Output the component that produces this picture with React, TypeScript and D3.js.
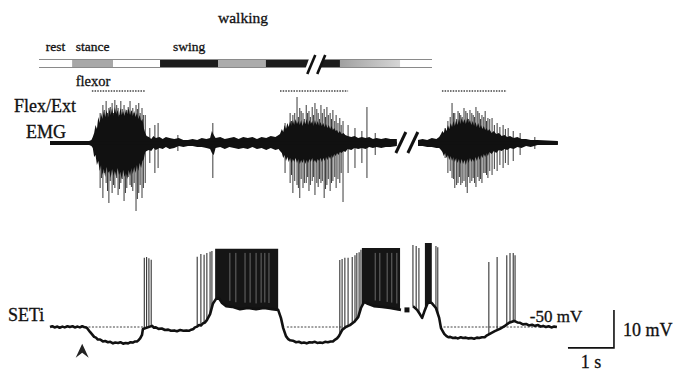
import React from 'react';
import * as d3 from 'd3';

const W = 676;
const H = 373;
const FONT = '"Liberation Serif", "Times New Roman", serif';

// top phase bar (bar time, s)
const phaseEdges = [0, 0.72, 1.61, 2.63, 3.89, 4.93, 6.54, 7.85, 8.54];
const phaseFills = ['#ffffff', '#a8a8a8', '#ffffff', '#1c1c1c', '#ababab', '#1c1c1c', 'url(#fade)', '#ffffff'];
const phaseLabels = ['rest', 'stance', '', 'swing', '', '', '', ''];
const barBreak = [5.83, 6.22];

// flexor bursts marked by dotted bars (s)
const flexorBursts = [[0.91, 2.07], [5.0, 6.48], [8.52, 9.93]];

// EMG envelope: [t (s), up, down] in a.u.
const emgEnvelope = [
  [0.0, 2, 2], [0.85, 2, 2], [0.9, 3, 3], [0.93, 6, 5], [0.96, 10, 14], [0.99, 18, 12], [1.02, 14, 22],
  [1.05, 26, 18], [1.08, 20, 28], [1.11, 30, 22], [1.14, 24, 32], [1.17, 32, 26], [1.2, 26, 34],
  [1.23, 33, 24], [1.26, 25, 30], [1.29, 34, 28], [1.32, 28, 35], [1.35, 35, 26], [1.38, 27, 33],
  [1.41, 36, 28], [1.44, 29, 34], [1.47, 33, 25], [1.5, 26, 32], [1.53, 35, 29], [1.56, 28, 36],
  [1.59, 32, 27], [1.62, 27, 34], [1.65, 34, 30], [1.68, 29, 36], [1.71, 35, 27], [1.74, 28, 33],
  [1.77, 33, 25], [1.8, 27, 31], [1.83, 32, 24], [1.86, 26, 30], [1.89, 30, 22], [1.92, 24, 28],
  [1.95, 28, 20], [1.98, 22, 25], [2.01, 24, 18], [2.04, 15, 16], [2.07, 10, 9], [2.1, 7, 8],
  [2.15, 6, 7], [2.2, 4, 8], [2.25, 7, 5], [2.3, 5, 7], [2.38, 6, 5], [2.45, 4, 6], [2.52, 6, 4],
  [2.6, 5, 6], [2.7, 4, 5], [2.8, 5, 3], [2.9, 3, 4], [3.0, 3, 3], [3.1, 4, 3], [3.2, 3, 4],
  [3.3, 5, 4], [3.4, 4, 5], [3.48, 5, 6], [3.52, 12, 10], [3.56, 8, 12], [3.6, 5, 5], [3.7, 6, 4],
  [3.8, 4, 6], [3.9, 5, 4], [4.0, 6, 5], [4.1, 4, 6], [4.2, 6, 5], [4.3, 5, 6], [4.4, 6, 4],
  [4.5, 4, 6], [4.6, 6, 5], [4.7, 5, 7], [4.8, 7, 5], [4.9, 6, 7], [4.97, 8, 6],
  [5.0, 9, 8], [5.04, 14, 10], [5.07, 11, 15], [5.1, 18, 12], [5.13, 14, 18], [5.16, 20, 14],
  [5.19, 16, 19], [5.22, 22, 15], [5.25, 17, 20], [5.28, 23, 16], [5.31, 18, 19], [5.34, 24, 15],
  [5.37, 19, 20], [5.4, 22, 16], [5.43, 18, 21], [5.46, 23, 17], [5.49, 17, 20], [5.52, 22, 16],
  [5.55, 19, 21], [5.58, 24, 17], [5.61, 18, 20], [5.64, 23, 16], [5.67, 19, 19], [5.7, 22, 15],
  [5.73, 17, 19], [5.76, 23, 17], [5.79, 18, 20], [5.82, 22, 16], [5.85, 17, 18], [5.88, 21, 15],
  [5.91, 17, 19], [5.94, 20, 15], [5.97, 16, 18], [6.0, 19, 14], [6.03, 15, 17], [6.06, 18, 13],
  [6.09, 14, 16], [6.12, 17, 12], [6.15, 13, 15], [6.18, 15, 11], [6.21, 12, 13], [6.24, 13, 10],
  [6.27, 10, 12], [6.3, 12, 9], [6.34, 9, 10], [6.38, 10, 8], [6.42, 8, 9], [6.47, 7, 6],
  [6.55, 6, 7], [6.62, 7, 5], [6.7, 5, 6], [6.78, 6, 5], [6.86, 5, 6], [6.94, 6, 4], [7.02, 4, 5],
  [7.1, 5, 4], [7.2, 4, 5], [7.3, 5, 4], [7.4, 4, 4], [7.54, 4, 3],
  [8.0, 3, 3], [8.1, 4, 3], [8.2, 3, 4], [8.3, 5, 4], [8.4, 4, 5], [8.46, 6, 5],
  [8.5, 9, 7], [8.53, 12, 9], [8.56, 10, 13], [8.59, 15, 10], [8.62, 12, 15], [8.65, 18, 12],
  [8.68, 14, 17], [8.71, 20, 13], [8.74, 16, 18], [8.77, 22, 14], [8.8, 17, 19], [8.83, 23, 15],
  [8.86, 18, 20], [8.89, 24, 16], [8.92, 19, 21], [8.95, 25, 16], [8.98, 20, 21], [9.01, 24, 17],
  [9.04, 19, 22], [9.07, 25, 16], [9.1, 20, 20], [9.13, 23, 15], [9.16, 18, 19], [9.19, 22, 16],
  [9.22, 17, 19], [9.25, 21, 14], [9.28, 16, 18], [9.31, 20, 13], [9.34, 15, 17], [9.37, 18, 12],
  [9.4, 14, 15], [9.43, 17, 11], [9.46, 13, 14], [9.49, 15, 10], [9.52, 12, 13], [9.55, 14, 9],
  [9.6, 10, 11], [9.65, 12, 8], [9.7, 9, 10], [9.76, 10, 7], [9.82, 7, 8], [9.88, 8, 6],
  [9.94, 6, 7], [10.0, 7, 5], [10.08, 5, 6], [10.16, 6, 4], [10.25, 4, 5], [10.35, 4, 3],
  [10.45, 3, 4], [10.6, 3, 2], [11.04, 2, 2],
];

// EMG single excursions: [t (s), up, down]
const emgSpikes = [
  [1.09, 30, 45], [1.12, 25, 35], [1.15, 38, 55], [1.18, 33, 30], [1.22, 42, 40], [1.25, 30, 48],
  [1.28, 35, 60], [1.31, 36, 38], [1.35, 40, 50], [1.38, 30, 42], [1.41, 43, 45], [1.45, 38, 35],
  [1.48, 35, 52], [1.51, 28, 46], [1.54, 42, 40], [1.57, 34, 36], [1.61, 38, 58], [1.64, 30, 50],
  [1.67, 33, 45], [1.7, 36, 34], [1.74, 42, 42], [1.77, 32, 44], [1.8, 35, 48], [1.83, 30, 40],
  [1.87, 38, 68], [1.9, 34, 56], [1.93, 40, 50], [1.96, 30, 42], [2.0, 35, 55], [2.03, 28, 45],
  [2.07, 28, 40], [2.17, 15, 20], [2.28, 18, 30], [2.35, 20, 25], [2.78, 8, 8],
  [3.54, 20, 35],
  [5.11, 20, 30], [5.22, 30, 40], [5.25, 22, 32], [5.28, 28, 50], [5.32, 30, 38], [5.37, 46, 42],
  [5.4, 26, 45], [5.43, 35, 55], [5.46, 32, 36], [5.5, 30, 45], [5.53, 24, 40], [5.57, 38, 40],
  [5.6, 30, 34], [5.63, 32, 48], [5.66, 26, 42], [5.7, 36, 38], [5.73, 28, 34], [5.76, 40, 52],
  [5.8, 34, 40], [5.83, 30, 44], [5.86, 24, 36], [5.89, 38, 40], [5.92, 30, 38], [5.96, 34, 55],
  [5.99, 26, 46], [6.02, 36, 42], [6.05, 28, 36], [6.09, 30, 48], [6.12, 24, 40], [6.15, 33, 38],
  [6.19, 22, 34], [6.22, 28, 45], [6.26, 20, 36], [6.3, 25, 40], [6.33, 18, 30], [6.37, 22, 59],
  [6.48, 18, 30], [6.63, 15, 25], [6.78, 12, 20], [6.89, 36, 35], [7.07, 10, 12],
  [8.59, 15, 15], [8.65, 22, 30], [8.7, 26, 28], [8.74, 40, 35], [8.77, 30, 36], [8.8, 30, 45],
  [8.84, 24, 42], [8.87, 32, 40], [8.9, 30, 34], [8.93, 28, 42], [8.96, 26, 40], [9.0, 35, 38],
  [9.04, 32, 44], [9.07, 30, 50], [9.1, 24, 34], [9.13, 33, 40], [9.17, 30, 38], [9.2, 28, 35],
  [9.23, 26, 40], [9.26, 36, 44], [9.3, 32, 34], [9.33, 30, 38], [9.36, 24, 36], [9.39, 28, 40],
  [9.43, 26, 30], [9.46, 32, 30], [9.49, 22, 32], [9.52, 25, 35], [9.56, 24, 28], [9.61, 25, 32],
  [9.66, 18, 26], [9.72, 20, 28], [9.78, 16, 22], [9.85, 18, 25], [9.9, 14, 20], [9.96, 15, 22],
  [10.07, 12, 18], [10.22, 10, 12], [10.54, 6, 6],
];
const emgBreak = [7.54, 8.0];

// SETi membrane potential: [t (s), mV]
const setiTrace = [
  [0, -50.0], [0.05, -49.8], [0.1, -50.1], [0.16, -49.9], [0.21, -50.2], [0.27, -49.9], [0.32, -50.1],
  [0.38, -49.8], [0.43, -50.0], [0.49, -49.8], [0.54, -50.1], [0.6, -49.9], [0.65, -50.1], [0.7, -49.8],
  [0.74, -50.0], [0.8, -50.2], [0.87, -51.3], [0.92, -52.0], [0.96, -52.6], [1.0, -52.8], [1.04, -53.3],
  [1.09, -53.3], [1.15, -53.8], [1.2, -53.7], [1.26, -54.0], [1.31, -53.9], [1.37, -54.3], [1.42, -54.1],
  [1.48, -54.2], [1.53, -54.0], [1.59, -54.4], [1.64, -54.2], [1.7, -54.3], [1.75, -54.0], [1.8, -54.1],
  [1.85, -53.8], [1.89, -53.8], [1.93, -53.4], [1.96, -53.0], [2.0, -52.1], [2.02, -50.5],
  [2.22, -49.7], [2.26, -50.2], [2.3, -50.1], [2.36, -50.5], [2.43, -50.4], [2.5, -50.8], [2.57, -50.7],
  [2.63, -51.0], [2.7, -50.9], [2.76, -51.1], [2.83, -50.8], [2.9, -51.0], [2.96, -50.9], [3.02, -51.0],
  [3.07, -50.7], [3.12, -50.5], [3.15, -50.1], [3.2, -49.9], [3.24, -49.5], [3.28, -49.6], [3.33, -49.0],
  [3.37, -48.8], [3.41, -48.2], [3.48, -46.6], [3.54, -43.9], [3.61, -42.6], [3.67, -42.4], [3.74, -43.7],
  [3.83, -44.5], [3.96, -44.7], [4.13, -45.3], [4.3, -45.0], [4.48, -45.3], [4.65, -45.0], [4.83, -45.3],
  [4.96, -45.5], [5.02, -47.6], [5.07, -50.3], [5.13, -52.4], [5.18, -53.2], [5.22, -53.5], [5.28, -53.6],
  [5.35, -54.0], [5.41, -53.9], [5.47, -54.2], [5.52, -54.1], [5.58, -54.3], [5.64, -54.0], [5.7, -54.1],
  [5.76, -53.9], [5.81, -54.2], [5.87, -54.1], [5.93, -54.2], [5.98, -53.9], [6.04, -54.0], [6.1, -53.8],
  [6.15, -53.8], [6.2, -53.3], [6.24, -53.0], [6.28, -52.4], [6.35, -50.8], [6.43, -50.0], [6.52, -49.5],
  [6.61, -48.7], [6.7, -47.4], [6.76, -45.0], [6.83, -43.4], [6.91, -43.9], [7.04, -44.5], [7.22, -44.7],
  [7.39, -45.0], [7.54, -45.3], [7.63, -45.5],
  [7.89, -44.5], [7.98, -45.5], [8.04, -46.6], [8.09, -47.6], [8.15, -45.5], [8.22, -43.4], [8.3, -43.7],
  [8.39, -45.0], [8.46, -47.6], [8.5, -50.3], [8.57, -51.8], [8.62, -52.4], [8.66, -52.7], [8.7, -52.6],
  [8.76, -52.9], [8.82, -52.8], [8.87, -53.0], [8.93, -52.7], [8.98, -52.9], [9.04, -52.8], [9.1, -53.0],
  [9.16, -52.9], [9.22, -53.1], [9.28, -52.8], [9.33, -52.9], [9.39, -52.7], [9.45, -52.7], [9.5, -52.2],
  [9.59, -51.6], [9.67, -51.1], [9.78, -50.5], [9.89, -49.7], [9.98, -48.9], [10.09, -48.4], [10.16, -48.8],
  [10.22, -48.9], [10.28, -49.3], [10.35, -49.2], [10.41, -49.6], [10.48, -49.4], [10.54, -49.7],
  [10.61, -49.5], [10.67, -49.9], [10.72, -49.7], [10.78, -50.0], [10.84, -49.8], [10.9, -50.1],
  [10.96, -49.9], [11.02, -50.0],
];
const setiGap = [7.65, 7.87];
const gapMarker = [7.76, -45.5];

// single action potentials: [t (s), peak mV]
const setiSpikes = [
  [2.05, -31.8], [2.1, -31.6], [2.15, -31.9], [2.2, -32.3],
  [3.2, -31.5], [3.28, -30.8], [3.35, -31.0], [3.41, -30.5], [3.48, -30.2], [3.52, -30.0],
  [6.3, -32.4], [6.35, -32.1], [6.41, -31.8], [6.48, -31.8], [6.57, -31.6], [6.63, -31.1],
  [6.67, -30.5], [6.72, -30.3], [6.76, -29.7],
  [7.89, -28.4], [7.96, -28.7], [8.02, -29.2], [8.39, -28.7], [8.43, -29.0],
  [9.54, -32.9], [9.72, -31.6], [9.93, -31.1], [10.0, -30.5], [10.07, -30.5], [10.11, -31.1],
];
// dense high-frequency firing: [t start, t end, peak mV]
const setiBursts = [[3.59, 4.96, -29.4], [6.78, 7.61, -29.2], [8.15, 8.3, -27.9]];
// lighter interspike columns inside the dense firing (s)
const burstGaps = [3.91, 4.04, 4.24, 4.35, 4.48, 4.59, 4.67, 4.76, 7.07, 7.17, 7.33, 7.43, 7.54];
// -50 mV reference, dotted (s)
const restLines = [[0.76, 2.07], [5.15, 6.35], [8.48, 10.9]];
const arrowTime = 0.7;
const scaleBar = { t: 12.26, v: -55.5, dt: 1, dv: 10 };

const xT = d3.scaleLinear().domain([0, 11]).range([50, 556]);
const xBar = d3.scaleLinear().domain([0, 8.54]).range([39, 432]);
const yE = d3.scaleLinear().domain([-80, 80]).range([223, 63]);
const yV = d3.scaleLinear().domain([-60, -40]).range([365, 289]);

const bis = d3.bisector((d: number[]) => d[0]).left;
function baseAt(t: number): number {
  const i = bis(setiTrace, t);
  if (i <= 0) return setiTrace[0][1];
  if (i >= setiTrace.length) return setiTrace[setiTrace.length - 1][1];
  const a = setiTrace[i - 1], b = setiTrace[i];
  return a[1] + ((b[1] - a[1]) * (t - a[0])) / (b[0] - a[0]);
}

export default function App() {
  const barTop = 60, barH = 7;
  const envArea = d3.area<number[]>()
    .x(d => xT(d[0]))
    .y0(d => yE(-d[2]))
    .y1(d => yE(d[1]));
  const envA = emgEnvelope.filter(d => d[0] <= emgBreak[0]);
  const envB = emgEnvelope.filter(d => d[0] >= emgBreak[1]);
  const baseLine = d3.line<number[]>().x(d => xT(d[0])).y(() => yE(0));

  const vLine = d3.line<number[]>().x(d => xT(d[0])).y(d => yV(d[1]));
  const traceA = setiTrace.filter(d => d[0] < setiGap[0]);
  const traceB = setiTrace.filter(d => d[0] > setiGap[1]);

  const burstPath = (b: number[]) => {
    const inner = setiTrace.filter(d => d[0] > b[0] && d[0] < b[1]);
    const pts: [number, number][] = [
      [xT(b[0]), yV(b[2])],
      [xT(b[1]), yV(b[2])],
      [xT(b[1]), yV(baseAt(b[1]))],
      ...inner.slice().reverse().map(d => [xT(d[0]), yV(d[1])] as [number, number]),
      [xT(b[0]), yV(baseAt(b[0]))],
    ];
    return 'M' + pts.map(p => p.join(',')).join('L') + 'Z';
  };

  const slash = (x: number, y0: number, y1: number, dx: number) =>
    `M${x},${y0}L${x + dx},${y1}`;

  const ax = xT(arrowTime), ay = yV(-54.4);
  const sbx = xT(scaleBar.t), sby = yV(scaleBar.v);
  const txt = { fill: '#111', stroke: '#111', strokeWidth: 0.3 };

  return (
    <svg width={W} height={H} style={{ position: 'absolute', left: 0, top: 0, background: '#fff' }}
      fontFamily={FONT}>
      <defs>
        <linearGradient id="fade" x1="0" x2="1" y1="0" y2="0">
          <stop offset="0" stopColor="#a0a0a0" />
          <stop offset="1" stopColor="#d6d6d6" />
        </linearGradient>
      </defs>

      <text x={243} y={23} fontSize={15.5} textAnchor="middle" {...txt}>walking</text>

      {/* phase bar */}
      {phaseFills.map((f, i) => (
        <rect key={i} x={xBar(phaseEdges[i])} y={barTop} width={xBar(phaseEdges[i + 1]) - xBar(phaseEdges[i])}
          height={barH} fill={f} />
      ))}
      <line x1={xBar(0)} x2={xBar(8.54)} y1={barTop - 0.5} y2={barTop - 0.5} stroke="#8a8a8a" />
      <line x1={xBar(0)} x2={xBar(8.54)} y1={barTop + barH + 0.5} y2={barTop + barH + 0.5} stroke="#8a8a8a" />
      {phaseLabels.map((l, i) => l ? (
        <text key={l} x={(xBar(phaseEdges[i]) + xBar(phaseEdges[i + 1])) / 2} y={51} fontSize={13.5}
          textAnchor="middle" {...txt}>{l}</text>
      ) : null)}
      <path d={`M${xBar(barBreak[0]) + 2},${barTop - 2}L${xBar(barBreak[1]) - 2},${barTop - 2}L${xBar(barBreak[1]) - 6},${barTop + barH + 2}L${xBar(barBreak[0]) - 2},${barTop + barH + 2}Z`}
        fill="#fff" />
      <path d={slash(xBar(barBreak[0]), 74, 55, 8)} stroke="#111" strokeWidth={2.6} />
      <path d={slash(xBar(barBreak[1]) - 8, 74, 55, 8)} stroke="#111" strokeWidth={2.6} />

      {/* flexor markers */}
      <text x={93} y={86} fontSize={14.5} textAnchor="middle" {...txt}>flexor</text>
      {flexorBursts.map((b, i) => (
        <line key={i} x1={xT(b[0])} x2={xT(b[1])} y1={91} y2={91} stroke="#444" strokeWidth={1.3}
          strokeDasharray="1.5,1.2" />
      ))}

      {/* EMG */}
      <text x={45} y={112} fontSize={18} textAnchor="middle" {...txt}>Flex/Ext</text>
      <text x={46} y={138} fontSize={18} textAnchor="middle" {...txt}>EMG</text>
      {emgSpikes.map((s, i) => (
        <line key={i} x1={xT(s[0])} x2={xT(s[0])} y1={yE(s[1])} y2={yE(-s[2])} stroke="#1a1a1a"
          strokeWidth={1} opacity={0.85} />
      ))}
      <path d={envArea(envA) || ''} fill="#111" />
      <path d={envArea(envB) || ''} fill="#111" />
      <path d={baseLine(envA) || ''} stroke="#111" strokeWidth={2.6} fill="none" />
      <path d={baseLine(envB) || ''} stroke="#111" strokeWidth={2.6} fill="none" />
      <path d={slash(xT(emgBreak[0]) - 1, yE(-10), yE(11), 10)} stroke="#111" strokeWidth={3} />
      <path d={slash(xT(emgBreak[0]) + 11, yE(-10), yE(11), 10)} stroke="#111" strokeWidth={3} />

      {/* SETi */}
      <text x={8} y={yV(-50) - 6} fontSize={18} {...txt}>SETi</text>
      {restLines.map((r, i) => (
        <line key={i} x1={xT(r[0])} x2={xT(r[1])} y1={yV(-50)} y2={yV(-50)} stroke="#444"
          strokeWidth={1} strokeDasharray="2,1.5" />
      ))}
      {setiBursts.map((b, i) => (
        <path key={i} d={burstPath(b)} fill="#151515" />
      ))}
      {burstGaps.map((t, i) => (
        <line key={i} x1={xT(t)} x2={xT(t)} y1={yV(-30.5)} y2={yV(baseAt(t) + 1.5)} stroke="#fff"
          strokeWidth={0.8} opacity={0.45} />
      ))}
      {setiSpikes.map((s, i) => (
        <line key={i} x1={xT(s[0])} x2={xT(s[0])} y1={yV(baseAt(s[0]))} y2={yV(s[1])} stroke="#333"
          strokeWidth={1.1} />
      ))}
      <path d={vLine(traceA) || ''} stroke="#111" strokeWidth={2.6} fill="none" strokeLinejoin="round" />
      <path d={vLine(traceB) || ''} stroke="#111" strokeWidth={2.6} fill="none" strokeLinejoin="round" />
      <rect x={xT(gapMarker[0]) - 2.5} y={yV(gapMarker[1]) - 2.5} width={5} height={5} fill="#111" />
      <text x={xT(10.43)} y={yV(-50) - 5.5} fontSize={17} {...txt}>-50 mV</text>

      {/* arrowhead */}
      <path d={`M${ax},${ay}L${ax - 6.5},${ay + 14}L${ax},${ay + 9}L${ax + 6.5},${ay + 14}Z`} fill="#222" />

      {/* scale bar */}
      <path d={`M${xT(scaleBar.t - scaleBar.dt)},${sby}L${sbx},${sby}L${sbx},${yV(scaleBar.v + scaleBar.dv)}`}
        stroke="#111" strokeWidth={1.6} fill="none" />
      <text x={sbx + 9} y={336} fontSize={18} {...txt}>10 mV</text>
      <text x={(xT(scaleBar.t - scaleBar.dt) + sbx) / 2} y={368} fontSize={18} textAnchor="middle" {...txt}>1 s</text>
    </svg>
  );
}
